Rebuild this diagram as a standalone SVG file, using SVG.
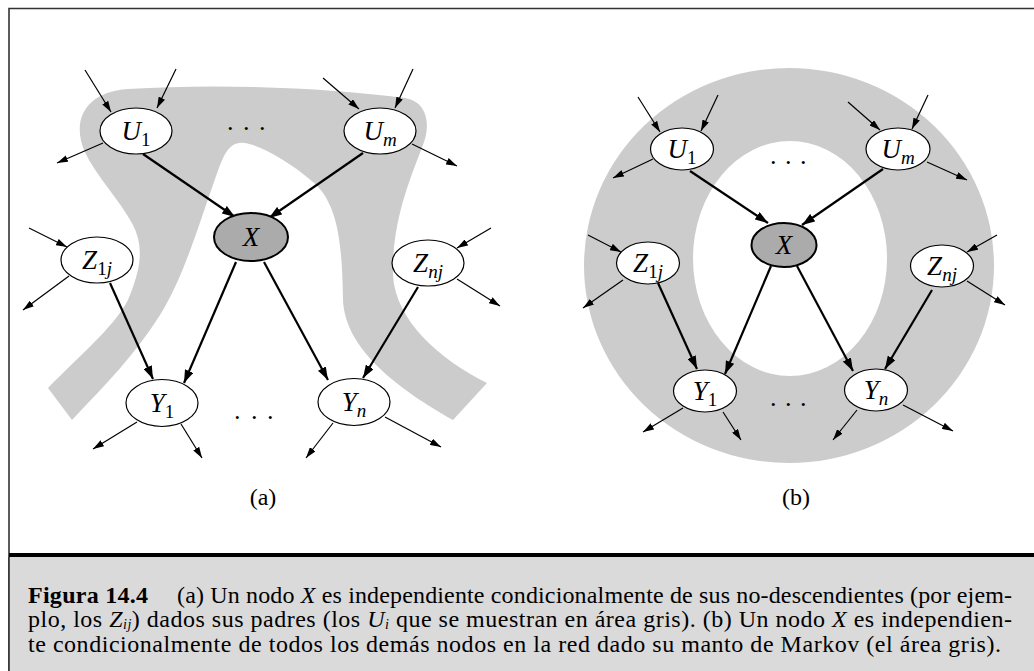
<svg xmlns="http://www.w3.org/2000/svg" width="1034" height="671" viewBox="0 0 1034 671">
<style>
svg{background:#fff}
.lbl{font-family:"Liberation Serif","Times New Roman",serif;font-style:italic;font-size:27px;fill:#000}
.sub{font-size:19px}
.up{font-style:normal}
.ser{font-family:"Liberation Serif","Times New Roman",serif;fill:#000}
.cap{font-family:"Liberation Serif","Times New Roman",serif;font-size:24px;fill:#000}
.it{font-style:italic}
.capsub{font-style:italic;font-size:14px}
.nd{fill:#fff;stroke:#000;stroke-width:1.2}
.ndx{fill:#ababab;stroke:#000;stroke-width:2}
.thin{stroke:#000;stroke-width:1.2;fill:none;marker-end:url(#ah)}
.thick{stroke:#000;stroke-width:2.2;fill:none;marker-end:url(#ahb)}
.band{fill:#cccccc}
</style>
<defs>
<marker id="ah" markerUnits="userSpaceOnUse" markerWidth="11" markerHeight="7" refX="11" refY="3.5" orient="auto">
<path d="M0,0 L11,3.5 L0,7 Z" fill="#000"/>
</marker>
<marker id="ahb" markerUnits="userSpaceOnUse" markerWidth="13" markerHeight="9" refX="13" refY="4.5" orient="auto">
<path d="M0,0 L13,4.5 L0,9 Z" fill="#000"/>
</marker>
</defs>
<rect x="0" y="0" width="1034" height="671" fill="#fff"/>
<!-- frame -->
<path d="M9,671 V8.5 H1034" fill="none" stroke="#333" stroke-width="1.6"/>
<rect x="9" y="557" width="1025" height="114" fill="#dadada"/>
<line x1="9" y1="555" x2="1034" y2="555" stroke="#000" stroke-width="4"/>
<line x1="9" y1="557" x2="9" y2="671" stroke="#333" stroke-width="1.6"/>

<!-- shaded regions -->
<path class="band" d="M48,388 C80,355 120,322 130,295 C142,265 143,245 133,225 C120,200 95,175 84,150 C72,120 85,92 128,89 C220,83 330,88 405,98 C428,102 430,125 424,142 C410,180 392,220 393,275 C395,320 440,360 487,383 L453,420 C400,390 345,350 343,300 C342,250 340,205 313,182 C290,162 262,146 245,143 C232,141 226,150 220,165 C200,220 185,275 160,315 C135,355 105,385 72,420 Z"/>
<path class="band" fill-rule="evenodd" d="M584,265.5 A205,197.5 0 1,0 994,265.5 A205,197.5 0 1,0 584,265.5 Z M693,258.5 A97,117.5 0 1,0 887,258.5 A97,117.5 0 1,0 693,258.5 Z"/>

<g id="connectors">
<line class="thin" x1="85" y1="70" x2="111" y2="112"/>
<line class="thin" x1="176" y1="69" x2="157" y2="108"/>
<line class="thin" x1="103" y1="143" x2="57" y2="163"/>
<line class="thin" x1="323" y1="78" x2="359" y2="109"/>
<line class="thin" x1="413" y1="69" x2="395" y2="108"/>
<line class="thin" x1="412" y1="144" x2="457" y2="166"/>
<line class="thin" x1="29" y1="228" x2="67" y2="247"/>
<line class="thin" x1="69" y1="276" x2="23" y2="310"/>
<line class="thin" x1="491" y1="228" x2="457" y2="248"/>
<line class="thin" x1="457" y1="279" x2="500" y2="306"/>
<line class="thin" x1="137" y1="422" x2="93" y2="449"/>
<line class="thin" x1="181" y1="424" x2="202" y2="458"/>
<line class="thin" x1="333" y1="423" x2="306" y2="458"/>
<line class="thin" x1="385" y1="417" x2="441" y2="447"/>
<line class="thick" x1="143" y1="154" x2="235" y2="217"/>
<line class="thick" x1="363" y1="153" x2="269" y2="218"/>
<line class="thick" x1="110" y1="283" x2="153" y2="379"/>
<line class="thick" x1="236" y1="262" x2="184" y2="383"/>
<line class="thick" x1="264" y1="262" x2="328" y2="380"/>
<line class="thick" x1="418" y1="287" x2="363" y2="378"/>

<line class="thin" x1="638" y1="97" x2="660" y2="132"/>
<line class="thin" x1="718" y1="95" x2="701" y2="131"/>
<line class="thin" x1="653" y1="159" x2="613" y2="178"/>
<line class="thin" x1="848" y1="102" x2="880" y2="130"/>
<line class="thin" x1="928" y1="95" x2="912" y2="129"/>
<line class="thin" x1="927" y1="162" x2="967" y2="180"/>
<line class="thin" x1="588" y1="235" x2="621" y2="252"/>
<line class="thin" x1="623" y1="280" x2="583" y2="308"/>
<line class="thin" x1="997" y1="235" x2="967" y2="252"/>
<line class="thin" x1="967" y1="281" x2="1005" y2="305"/>
<line class="thin" x1="683" y1="408" x2="643" y2="432"/>
<line class="thin" x1="723" y1="412" x2="741" y2="440"/>
<line class="thin" x1="857" y1="410" x2="833" y2="440"/>
<line class="thin" x1="903" y1="405" x2="953" y2="431"/>
<line class="thick" x1="690" y1="171" x2="768" y2="223"/>
<line class="thick" x1="883" y1="169" x2="802" y2="225"/>
<line class="thick" x1="658" y1="283" x2="697" y2="369"/>
<line class="thick" x1="771" y1="266" x2="725" y2="374"/>
<line class="thick" x1="797" y1="266" x2="853" y2="371"/>
<line class="thick" x1="932" y1="290" x2="885" y2="369"/>
</g>

<!-- left diagram nodes -->
<g id="a-U1"><ellipse class="nd" cx="136" cy="131" rx="36" ry="23"/><text class="lbl" x="136" y="140" text-anchor="middle">U<tspan class="sub up" dy="6">1</tspan></text></g>
<g id="a-Um"><ellipse class="nd" cx="380" cy="131" rx="36" ry="23"/><text class="lbl" x="380" y="140" text-anchor="middle">U<tspan class="sub" dy="6">m</tspan></text></g>
<g id="a-X"><ellipse class="ndx" cx="251" cy="237" rx="37" ry="24"/><text class="lbl" x="251" y="246" text-anchor="middle">X</text></g>
<g id="a-Z1j"><ellipse class="nd" cx="97" cy="260" rx="36" ry="23"/><text class="lbl" x="97" y="269" text-anchor="middle">Z<tspan class="sub up" dy="6">1</tspan><tspan class="sub">j</tspan></text></g>
<g id="a-Znj"><ellipse class="nd" cx="428" cy="263" rx="36" ry="23"/><text class="lbl" x="428" y="272" text-anchor="middle">Z<tspan class="sub" dy="6">nj</tspan></text></g>
<g id="a-Y1"><ellipse class="nd" cx="162" cy="403" rx="36" ry="23.5"/><text class="lbl" x="162" y="412" text-anchor="middle">Y<tspan class="sub up" dy="6">1</tspan></text></g>
<g id="a-Yn"><ellipse class="nd" cx="354" cy="402" rx="36" ry="23.5"/><text class="lbl" x="354" y="411" text-anchor="middle">Y<tspan class="sub" dy="6">n</tspan></text></g>

<!-- right diagram nodes -->
<g id="b-U1"><ellipse class="nd" cx="682" cy="149" rx="31.5" ry="21"/><text class="lbl" x="682" y="158" text-anchor="middle">U<tspan class="sub up" dy="6">1</tspan></text></g>
<g id="b-Um"><ellipse class="nd" cx="898" cy="149" rx="32" ry="21"/><text class="lbl" x="898" y="158" text-anchor="middle">U<tspan class="sub" dy="6">m</tspan></text></g>
<g id="b-X"><ellipse class="ndx" cx="784" cy="245" rx="32.5" ry="22"/><text class="lbl" x="784" y="254" text-anchor="middle">X</text></g>
<g id="b-Z1j"><ellipse class="nd" cx="648" cy="263" rx="31.5" ry="21"/><text class="lbl" x="648" y="272" text-anchor="middle">Z<tspan class="sub up" dy="6">1</tspan><tspan class="sub">j</tspan></text></g>
<g id="b-Znj"><ellipse class="nd" cx="942" cy="266" rx="31.5" ry="21"/><text class="lbl" x="942" y="275" text-anchor="middle">Z<tspan class="sub" dy="6">nj</tspan></text></g>
<g id="b-Y1"><ellipse class="nd" cx="705" cy="391" rx="31.5" ry="21"/><text class="lbl" x="705" y="400" text-anchor="middle">Y<tspan class="sub up" dy="6">1</tspan></text></g>
<g id="b-Yn"><ellipse class="nd" cx="876" cy="390" rx="31.5" ry="21"/><text class="lbl" x="876" y="399" text-anchor="middle">Y<tspan class="sub" dy="6">n</tspan></text></g>

<text class="ser" x="227 243 259" y="130" font-size="26">...</text>
<text class="ser" x="234 251 267" y="419" font-size="26">...</text>
<text class="ser" x="770 785 800" y="164" font-size="26">...</text>
<text class="ser" x="770 785 800" y="406" font-size="26">...</text>
<text class="ser" x="263" y="505" text-anchor="middle" font-size="24">(a)</text>
<text class="ser" x="796" y="505" text-anchor="middle" font-size="24">(b)</text>

<!-- caption -->
<g id="caption">
<text class="cap" x="28" y="603" font-weight="bold" textLength="120" lengthAdjust="spacing">Figura 14.4</text>
<text class="cap" x="177" y="603" textLength="835" lengthAdjust="spacing">(a) Un nodo <tspan class="it">X</tspan> es independiente condicionalmente de sus no-descendientes (por ejem-</text>
<text class="cap" x="28" y="627" textLength="984" lengthAdjust="spacing">plo, los <tspan class="it">Z</tspan><tspan class="capsub" dy="2">ij</tspan><tspan dy="-2">) dados sus padres (los </tspan><tspan class="it">U</tspan><tspan class="capsub" dy="2">i</tspan><tspan dy="-2"> que se muestran en área gris). (b) Un nodo </tspan><tspan class="it">X</tspan> es independien-</text>
<text class="cap" x="28" y="652" textLength="973" lengthAdjust="spacing">te condicionalmente de todos los demás nodos en la red dado su manto de Markov (el área gris).</text>
</g>
</svg>
